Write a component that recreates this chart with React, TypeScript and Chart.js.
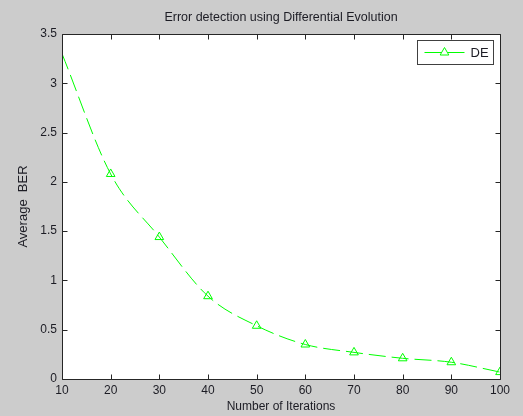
import React, { useEffect, useRef } from 'react';
import { Chart, registerables } from 'chart.js';

Chart.register(...registerables);

// ---- data ----
const iterations = [10, 20, 30, 40, 50, 60, 70, 80, 90, 100];
const averageBer = [3.3, 2.08, 1.44, 0.84, 0.54, 0.35, 0.27, 0.21, 0.17, 0.07];
const xTicks = [10, 20, 30, 40, 50, 60, 70, 80, 90, 100];
const yTicks = [0, 0.5, 1, 1.5, 2, 2.5, 3, 3.5];
const seriesLabel = 'DE';
const chartTitle = 'Error detection using Differential Evolution';
const xTitle = 'Number of Iterations';
const yTitle = 'Average  BER';

// ---- styles ----
const FIG_BG = '#cccccc';
const AXIS = '#262626';
const TEXT = '#1c1c24';
const GREEN = '#00ff00';
const FONT = 'Arial, "Liberation Sans", sans-serif';
const TICK_LEN = 5;

const framePlugin = {
  id: 'matlabFrame',
  beforeDraw(chart: any) {
    const { ctx, chartArea: a, width, height } = chart;
    ctx.save();
    ctx.fillStyle = FIG_BG;
    ctx.fillRect(0, 0, width, height);
    ctx.fillStyle = '#ffffff';
    ctx.fillRect(a.left, a.top, a.right - a.left, a.bottom - a.top);
    // title centred over the axes
    ctx.fillStyle = TEXT;
    ctx.font = `12.5px ${FONT}`;
    ctx.textAlign = 'center';
    ctx.textBaseline = 'middle';
    ctx.fillText(chartTitle, (a.left + a.right) / 2, a.top - 16);
    ctx.restore();
  },
  afterDatasetsDraw(chart: any) {
    const { ctx, chartArea: a } = chart;
    const xs = chart.scales.x;
    const ys = chart.scales.y;
    const L = Math.round(a.left) + 0.5;
    const R = Math.round(a.right) + 0.5;
    const T = Math.round(a.top) + 0.5;
    const B = Math.round(a.bottom) + 0.5;
    ctx.save();
    ctx.strokeStyle = AXIS;
    ctx.lineWidth = 1;
    ctx.setLineDash([]);
    ctx.beginPath();
    ctx.rect(L, T, R - L, B - T);
    for (const v of xTicks) {
      const px = Math.round(xs.getPixelForValue(v)) + 0.5;
      ctx.moveTo(px, B);
      ctx.lineTo(px, B - TICK_LEN);
      ctx.moveTo(px, T);
      ctx.lineTo(px, T + TICK_LEN);
    }
    for (const v of yTicks) {
      const py = Math.round(ys.getPixelForValue(v)) + 0.5;
      ctx.moveTo(L, py);
      ctx.lineTo(L + TICK_LEN, py);
      ctx.moveTo(R, py);
      ctx.lineTo(R - TICK_LEN, py);
    }
    ctx.stroke();

    // legend box
    const bw = 76;
    const bh = 24;
    const bx = Math.round(a.right) - 7 - bw + 0.5;
    const by = Math.round(a.top) + 6 + 0.5;
    ctx.fillStyle = '#ffffff';
    ctx.fillRect(bx, by, bw, bh);
    ctx.strokeStyle = '#404040';
    ctx.strokeRect(bx, by, bw, bh);
    const ly = by + bh / 2;
    ctx.strokeStyle = GREEN;
    ctx.beginPath();
    ctx.moveTo(bx + 7, ly);
    ctx.lineTo(bx + 47, ly);
    ctx.stroke();
    const cx = bx + 27;
    const r = 5;
    ctx.beginPath();
    ctx.moveTo(cx, ly - r);
    ctx.lineTo(cx + r * Math.sin((2 * Math.PI) / 3), ly - r * Math.cos((2 * Math.PI) / 3));
    ctx.lineTo(cx + r * Math.sin((4 * Math.PI) / 3), ly - r * Math.cos((4 * Math.PI) / 3));
    ctx.closePath();
    ctx.fillStyle = '#ffffff';
    ctx.fill();
    ctx.stroke();
    ctx.fillStyle = TEXT;
    ctx.font = `13px ${FONT}`;
    ctx.textBaseline = 'middle';
    ctx.textAlign = 'left';
    ctx.fillText(chart.data.datasets[0].label, bx + 53, ly + 0.5);
    ctx.restore();
  },
};

export default function App() {
  const canvasRef = useRef<HTMLCanvasElement | null>(null);

  useEffect(() => {
    const canvas = canvasRef.current;
    if (!canvas) return;
    const chart = new Chart(canvas, {
      type: 'line',
      data: {
        datasets: [
          {
            label: seriesLabel,
            data: iterations.map((x, i) => ({ x, y: averageBer[i] })),
            borderColor: GREEN,
            borderWidth: 1,
            borderDash: [17, 6],
            cubicInterpolationMode: 'monotone',
            pointStyle: 'triangle',
            pointRadius: iterations.map((_, i) => (i === 0 ? 0 : 5)),
            pointBorderColor: GREEN,
            pointBackgroundColor: 'rgba(0,0,0,0)',
            pointBorderWidth: 1,
            fill: false,
          },
        ],
      },
      options: {
        responsive: false,
        animation: false,
        layout: { padding: { top: 34, right: 23, bottom: 0, left: 0 } },
        plugins: {
          legend: { display: false },
          tooltip: { enabled: false },
          title: { display: false },
        },
        scales: {
          x: {
            type: 'linear',
            min: 10,
            max: 100,
            afterBuildTicks: (s: any) => {
              s.ticks = xTicks.map((v) => ({ value: v }));
            },
            afterFit: (s: any) => {
              s.height = 37;
            },
            grid: { display: false, drawTicks: false },
            border: { display: false },
            ticks: {
              color: TEXT,
              font: { family: FONT, size: 12 },
              padding: 4,
              maxRotation: 0,
              autoSkip: false,
              callback: (v: any) => String(v),
            },
            title: {
              display: true,
              text: xTitle,
              color: TEXT,
              font: { family: FONT, size: 12 },
              padding: { top: 0, bottom: 2 },
            },
          },
          y: {
            type: 'linear',
            min: 0,
            max: 3.5,
            afterBuildTicks: (s: any) => {
              s.ticks = yTicks.map((v) => ({ value: v }));
            },
            afterFit: (s: any) => {
              s.width = 62;
            },
            grid: { display: false, drawTicks: false },
            border: { display: false },
            ticks: {
              color: TEXT,
              font: { family: FONT, size: 12 },
              padding: 5,
              autoSkip: false,
              callback: (v: any) => String(v),
            },
            title: {
              display: true,
              text: yTitle,
              color: TEXT,
              font: { family: FONT, size: 13 },
              padding: { top: 15.5, bottom: 0 },
            },
          },
        },
      },
      plugins: [framePlugin],
    } as any);
    return () => chart.destroy();
  }, []);

  return (
    <div style={{ position: 'absolute', left: 0, top: 0, width: 523, height: 416 }}>
      <canvas ref={canvasRef} width={523} height={416} style={{ display: 'block' }} />
    </div>
  );
}
